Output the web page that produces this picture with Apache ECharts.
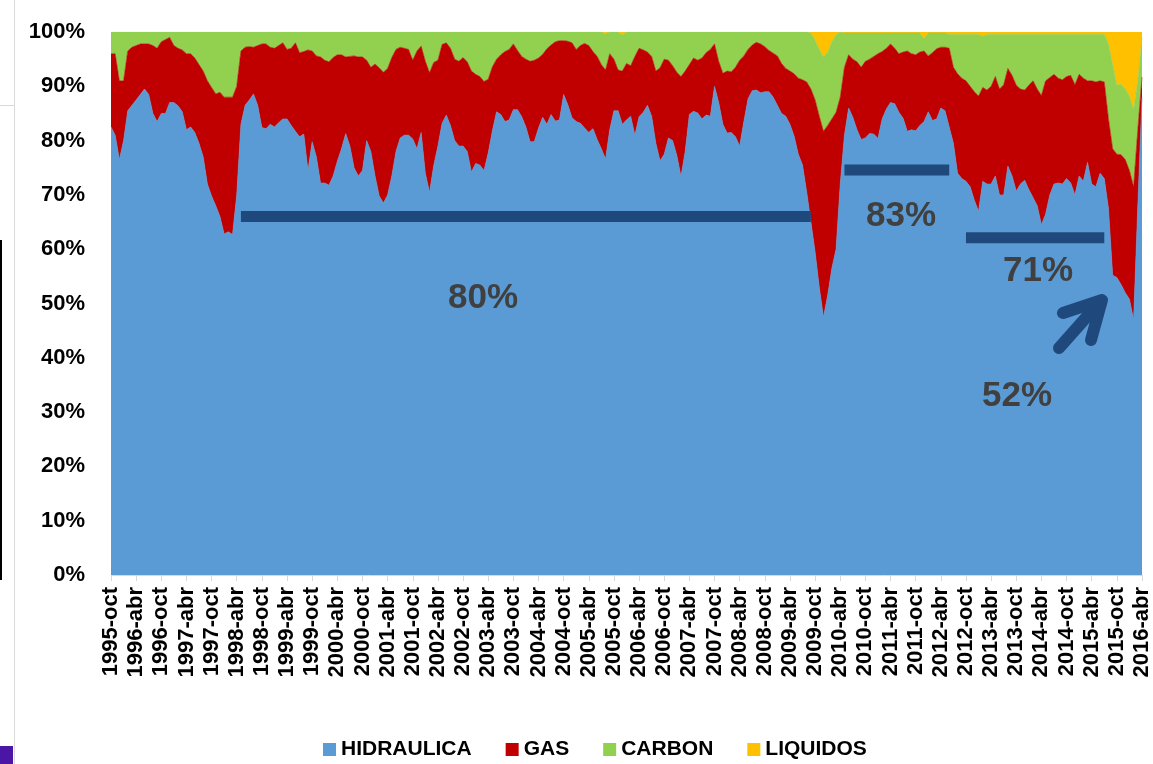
<!DOCTYPE html>
<html>
<head>
<meta charset="utf-8">
<script src="https://cdn.jsdelivr.net/npm/echarts@6/dist/echarts.min.js"></script>
<style>
html,body{margin:0;padding:0;background:#fff;}
#c{width:1153px;height:764px;}
</style>
</head>
<body>
<div id="c"></div>
<script>
// Month names (Spanish) and categories: monthly from 1995-oct to 2016-abr
const monthNames = ['ene','feb','mar','abr','may','jun','jul','ago','sep','oct','nov','dic'];
const startYear = 1995, startMonth = 9, monthCount = 247;
const categories = [];
for (let k = 0, y = startYear, m = startMonth; k < monthCount; k++) {
  categories.push(y + '-' + monthNames[m]);
  m++; if (m === 12) { m = 0; y++; }
}

const seriesNames = ['HIDRAULICA', 'GAS', 'CARBON', 'LIQUIDOS'];
const yTicks = [0,10,20,30,40,50,60,70,80,90,100];

// Shares of generation (%), monthly
const hydro = [
 82.5,81,76.5,80,85.5,86.5,87.5,88.5,89.5,88.5,
 85,83.5,85,85,87,87,86.4,85.3,82,82.5,
 81.5,79.5,77,72,69.8,68,66,62.8,63.2,62.7,
 70,83,86.5,87.5,88.6,86.5,82.4,82.2,83,82.5,
 83.3,84,84,82.8,81.7,80.7,81.2,74.5,79.8,77,
 72.2,72.2,71.8,73.5,76.2,78.5,81.3,79,75,73.5,
 74.5,80,78,73.5,69.8,68.5,70,73.5,78,80.5,
 81,81,80.3,78.5,81.5,74,70.5,75.4,79,83.2,
 84.7,82.8,80,79,79,78,74.2,75.8,75.5,74.5,
 77.7,81.8,85.3,84.8,83.5,83.8,85.7,85.7,84.4,82.5,
 79.8,79.8,82.3,84.3,83,84.8,83.6,83.8,88.5,86.6,
 84.2,83.5,83.2,82.3,81.5,82.2,80.2,78.5,76.6,82,
 85.5,85.5,83,83.8,84.5,81,84.4,85.2,86.5,84.5,
 79.5,76.3,77.5,80.5,80,77.3,73.4,78,84.8,85.4,
 85.1,84,84.7,84.5,90,87,83,81.4,81.5,80.7,
 79,83.5,87.7,89.2,89.3,88.8,89,89,88,86.5,
 85,84.5,83,80.8,77.5,75.5,70.5,65,59.5,53,
 47.5,51.5,56.5,60,72,81,86,84.3,82,80.2,
 80.5,81.3,81.2,80.4,84,85.8,87,86.8,85.2,84.1,
 81.7,82,81.8,82.8,83.5,85.3,83.7,84,86,85.5,
 82.5,79.5,74,73,72.5,71.5,69,67,72.5,72,
 72,73.5,70,70,75.3,73.5,70.7,72,72.7,71,
 69.5,68,64.5,66.5,70,72,72.2,72,73,72.2,
 70,73.5,72.5,76,72,71.5,74,73,67.5,55.2,
 54.8,53.5,52,50.8,47,68,88
];
const gas = [
 13.5,15,14.5,11,11,10.7,10,9.3,8.3,9.3,
 12.5,13.5,13.2,13.6,12,10.5,10.6,11.4,14,13.5,
 13.7,14.5,15.8,19,20,20.6,22.9,25.2,24.8,25.3,
 20,13.5,10.7,9.8,8.6,11,15.4,15.6,14.2,14.5,
 14.2,14,12.8,14.2,16.3,15.5,15.2,22.2,16.7,18.6,
 23.2,22.6,22.7,21.8,19.6,17.3,14.1,16.5,20.6,21.9,
 20.9,14.8,15.5,20.6,23.6,24.1,23.3,21.8,18.8,16.7,
 16,15.8,14.5,18,15.9,20.6,22,19,15.8,14.5,
 13.3,14.2,15,15.6,16.3,16.5,18.6,16.4,16.3,16.4,
 13.6,11.8,9.7,11,12.9,13,12.1,10.9,11.1,12.5,
 14.8,15,12.9,11.6,13.9,12.8,14.6,14.6,9.9,11.7,
 13.8,13.3,14.3,15.6,16,14.2,15.3,15.5,16.4,14,
 9.5,7.5,9.8,10.4,9.3,14.5,12.6,11.5,9.8,11,
 13.3,17.1,17.5,14.3,13.8,15.3,18.4,14.8,9.2,9.8,
 9.7,11.2,11.5,12.3,7.8,7.6,9.4,11.4,11.2,12.8,
 15.8,12.1,9.1,8.4,8.8,9,8.3,7.6,8.1,9.1,
 9.2,8.8,9.8,11.5,14,15.7,20.3,24.5,28,31.5,
 34.2,31.3,27.5,25.2,16,12.5,9.8,10.7,12.5,13.3,
 14.1,13.7,14.3,15.6,12.4,11.2,10.8,10.2,10.8,12.2,
 14.8,14,14,13.5,13,10.3,12.5,12.9,11.2,11.7,
 14.5,14,18.3,18.5,18.5,18.5,20,21.2,17.3,17.3,
 18,18.3,19.5,20.3,18,18.5,19.5,17.5,16.6,19.2,
 21.5,21.5,23.8,24.5,21.6,20.2,19.3,19.2,18.8,19.8,
 20.3,18.7,19,15,19,19.3,17,17.8,16.5,23.3,
 22.7,23.9,24.5,23.7,24.5,14,3.7
];
const carbon = [
 4,4,9,9,3.5,2.8,2.5,2.2,2.2,2.2,
 2.5,3,1.8,1.4,1,2.5,3,3.3,4,4,
 4.8,6,7.2,9,10.2,11.4,11.1,12,12,12,
 10,3.5,2.8,2.7,2.8,2.5,2.2,2.2,2.8,3,
 2.5,2,3.2,3,2,3.8,3.6,3.3,3.5,4.4,
 4.6,5.2,5.5,4.7,4.2,4.2,4.6,4.5,4.4,4.6,
 4.6,5.2,6.5,5.9,6.6,7.4,6.7,4.7,3.2,2.8,
 3,3.2,5.2,3.5,2.6,5.4,7.5,5.6,5.2,2.3,
 2,3,5,5.4,4.7,5.5,7.2,7.8,8.2,9.1,
 8.7,6.4,5,4.2,3.6,3.2,2.2,3.4,4.5,5,
 5.4,5.2,4.8,4.1,3.1,2.4,1.8,1.6,1.6,1.7,
 2,3.2,2.5,2.1,2.5,3.6,4.5,6,6.7,4,
 5,7,6.7,5.8,6.2,4.5,3,3.3,3.7,4.5,
 7.2,6.6,5,5.2,6.2,7.4,8.2,7.2,6,4.8,
 5.2,4.8,3.8,3.2,2.2,5.4,7.6,7.2,7.3,6.5,
 5.2,4.4,3.2,2.4,1.9,2.2,2.7,3.4,3.9,4.4,
 5.8,6.7,7.2,7.7,8.5,8.8,9.2,10.3,11,12.3,
 13.7,13.5,14.2,14.3,12,6.3,4,4.8,5.3,6.3,
 5.2,4.8,4.3,3.8,3.4,2.8,2,2.8,3.8,3.5,
 3.3,3.8,4,3.5,2.3,4.2,3.6,2.9,2.6,2.6,
 2.6,6.1,7.3,8.1,8.6,9.6,10.6,11.4,9.4,10.3,
 9.6,7.8,10.1,9.3,6.3,7.6,9.4,10.1,10.3,9.4,
 8.6,10.1,11.3,8.6,8,7.4,8.1,8.4,7.8,7.6,
 9.3,7.4,8.1,8.6,8.6,8.8,8.6,8.8,13.8,15.5,
 12.7,13,13,13.7,14.1,9,7.3
];
const liquidos = [
 0,0,0,0,0,0,0,0,0,0,
 0,0,0,0,0,0,0,0,0,0,
 0,0,0,0,0,0,0,0,0,0,
 0,0,0,0,0,0,0,0,0,0,
 0,0,0,0,0,0,0,0,0,0,
 0,0,0,0,0,0,0,0,0,0,
 0,0,0,0,0,0,0,0,0,0,
 0,0,0,0,0,0,0,0,0,0,
 0,0,0,0,0,0,0,0,0,0,
 0,0,0,0,0,0,0,0,0,0,
 0,0,0,0,0,0,0,0,0,0,
 0,0,0,0,0,0,0,0,0.3,0,
 0,0,0.5,0,0,0,0,0,0,0,
 0,0,0,0,0,0,0,0,0,0,
 0,0,0,0,0,0,0,0,0,0,
 0,0,0,0,0,0,0,0,0,0,
 0,0,0,0,0,0,0,0.2,1.5,3.2,
 4.6,3.7,1.8,0.5,0,0.2,0.2,0.2,0.2,0.2,
 0.2,0.2,0.2,0.2,0.2,0.2,0.2,0.2,0.2,0.2,
 0.2,0.2,0.2,0.2,1.2,0.2,0.2,0.2,0.2,0.2,
 0.4,0.4,0.4,0.4,0.4,0.4,0.4,0.4,0.8,0.4,
 0.4,0.4,0.4,0.4,0.4,0.4,0.4,0.4,0.4,0.4,
 0.4,0.4,0.4,0.4,0.4,0.4,0.4,0.4,0.4,0.4,
 0.4,0.4,0.4,0.4,0.4,0.4,0.4,0.4,2.2,6,
 9.8,9.6,10.5,11.8,14.4,9,1
];

// Period averages of hydro share shown as bars: [start index, end index, level]
const avgBars = [
  { from: 31, to: 167, level: 66.0 },
  { from: 175, to: 200, level: 74.6 },
  { from: 204, to: 237, level: 62.1 }
];

const colors = ['#5b9bd5', '#c00000', '#92d050', '#ffc000'];
const FONT = 'Liberation Sans, Arial, sans-serif';

function areaSeries(name, data, color, lw) {
  return {
    name: name, type: 'line', stack: 'total', data: data,
    symbol: 'none', showSymbol: false, smooth: false,
    lineStyle: { width: lw, color: color },
    areaStyle: { color: color, opacity: 1 },
    itemStyle: { color: color },
    emphasis: { disabled: true }, silent: true
  };
}

const chart = echarts.init(document.getElementById('c'), null, { renderer: 'canvas' });
const option = {
  animation: false,
  backgroundColor: '#ffffff',
  grid: { left: 111, right: 10, top: 32, bottom: 189, containLabel: false },
  legend: {
    data: seriesNames, left: 318, top: 734, icon: 'rect',
    itemWidth: 13, itemHeight: 13, itemGap: 34,
    textStyle: { fontFamily: FONT, fontWeight: 'bold', fontSize: 21, color: '#000' }
  },
  xAxis: {
    type: 'category', data: categories, boundaryGap: false,
    axisLine: { show: true, lineStyle: { color: '#d9d9d9' } },
    axisTick: { show: true, interval: 5, length: 6, lineStyle: { color: '#d9d9d9' } },
    axisLabel: { interval: 5, rotate: 90, margin: 12, fontFamily: FONT, fontWeight: 'bold', fontSize: 22, color: '#000' },
    splitLine: { show: false }
  },
  yAxis: {
    type: 'value', min: yTicks[0], max: yTicks[yTicks.length - 1], interval: 10,
    axisLine: { show: false }, axisTick: { show: false },
    axisLabel: { formatter: '{value}%', margin: 26, fontFamily: FONT, fontWeight: 'bold', fontSize: 22, color: '#000' },
    splitLine: { show: false }
  },
  series: [
    areaSeries(seriesNames[0], hydro, colors[0], 0.6),
    areaSeries(seriesNames[1], gas, colors[1], 0.6),
    areaSeries(seriesNames[2], carbon, colors[2], 0.6),
    areaSeries(seriesNames[3], liquidos, colors[3], 0)
  ]
};
chart.setOption(option);

// Annotations
const graphics = [];
function px(i, v) { return chart.convertToPixel({ xAxisIndex: 0, yAxisIndex: 0 }, [i, v]); }
avgBars.forEach(function (b) {
  const p1 = px(b.from, b.level), p2 = px(b.to, b.level);
  graphics.push({ type: 'line', z: 100, silent: true,
    shape: { x1: p1[0], y1: p1[1], x2: p2[0], y2: p2[1] },
    style: { stroke: '#1f497d', lineWidth: 11, lineCap: 'butt' } });
});
const annoTexts = [
  { t: '80%', x: 483, y: 298 },
  { t: '83%', x: 901, y: 216 },
  { t: '71%', x: 1038, y: 271 },
  { t: '52%', x: 1017, y: 396 }
];
annoTexts.forEach(function (a) {
  graphics.push({ type: 'text', z: 100, silent: true, x: a.x, y: a.y,
    style: { text: a.t, fill: '#404040', font: 'bold 35px ' + FONT, textAlign: 'center', textVerticalAlign: 'middle' } });
});
// arrow
graphics.push({ type: 'line', z: 100, silent: true,
  shape: { x1: 1059, y1: 348, x2: 1099, y2: 303 },
  style: { stroke: '#1f497d', lineWidth: 12, lineCap: 'round' } });
graphics.push({ type: 'polyline', z: 100, silent: true,
  shape: { points: [[1063, 313], [1102, 300], [1091, 340]] },
  style: { stroke: '#1f497d', lineWidth: 12, lineCap: 'round', lineJoin: 'round', fill: null } });
// slide artifacts on the left
graphics.push({ type: 'line', silent: true, shape: { x1: 14.5, y1: 0, x2: 14.5, y2: 764 }, style: { stroke: '#d9d9d9', lineWidth: 1 } });
graphics.push({ type: 'line', silent: true, shape: { x1: 0, y1: 105.5, x2: 14, y2: 105.5 }, style: { stroke: '#d9d9d9', lineWidth: 1 } });
graphics.push({ type: 'line', silent: true, shape: { x1: 1, y1: 240, x2: 1, y2: 580 }, style: { stroke: '#000', lineWidth: 2 } });
graphics.push({ type: 'rect', silent: true, shape: { x: 0, y: 746, width: 13, height: 18 }, style: { fill: '#4b16a6' } });

chart.setOption({ graphic: graphics });
</script>
</body>
</html>
